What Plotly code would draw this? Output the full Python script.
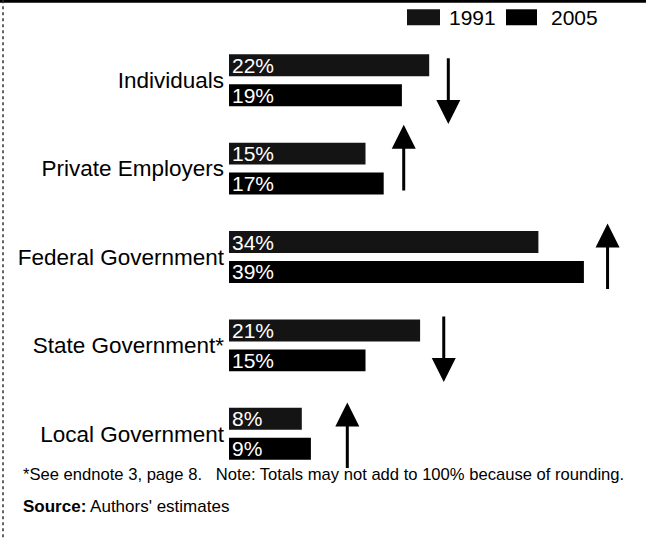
import plotly.graph_objects as go

# Share of spending by payer, 1991 vs 2005 (percent)
categories = ["Individuals", "Private Employers", "Federal Government",
              "State Government*", "Local Government"]
share_1991 = [22, 15, 34, 21, 8]
share_2005 = [19, 17, 39, 15, 9]
series_names = ["1991", "2005"]

note_text = ("*See endnote 3, page 8.   Note: Totals may not add to 100% "
             "because of rounding.")
source_label = "Source:"
source_text = "Authors' estimates"

# ---- page geometry -------------------------------------------------------
FIG_W, FIG_H = 646, 538
M_L, M_R, M_T, M_B = 229, 0, 35.75, 59.75
PLOT_W = FIG_W - M_L - M_R
PLOT_H = FIG_H - M_T - M_B
PX_PER_PCT = 9.1

FONT = "Liberation Sans, Arial, sans-serif"
BAR_COLORS = {"1991": "#141414", "2005": "#000000"}


def px_x(p):
    return (p - M_L) / PLOT_W


def px_y(p):
    return 1 - (p - M_T) / PLOT_H


fig = go.Figure()
for name, vals in zip(series_names, [share_1991, share_2005]):
    fig.add_trace(go.Bar(
        name=name,
        y=categories,
        x=vals,
        orientation="h",
        marker=dict(color=BAR_COLORS[name], line=dict(width=0)),
        text=[f"{v}%" for v in vals],
        textposition="inside",
        insidetextanchor="start",
        textangle=0,
        textfont=dict(family=FONT, size=21, color="white"),
        showlegend=False,
        hoverinfo="skip",
    ))

# ---- change arrows: up when the share grew, down when it fell -------------
arrow_gap = {"Individuals": 2.1, "Private Employers": 2.2,
             "Federal Government": 2.6, "State Government*": 2.6,
             "Local Government": 4.0}
arrow_shift = {"Individuals": 0.115, "Private Employers": -0.115,
               "Federal Government": 0.0, "State Government*": 0.035,
               "Local Government": 0.025}
HALF_LEN = 0.38

annotations = []
for i, cat in enumerate(categories):
    a, b = share_1991[i], share_2005[i]
    xpos = max(a, b) + arrow_gap[cat]
    centre = i + arrow_shift[cat]
    if b > a:
        tip, tail = centre - HALF_LEN, centre + HALF_LEN
    else:
        tip, tail = centre + HALF_LEN, centre - HALF_LEN
    annotations.append(dict(
        x=xpos, y=tip, ax=xpos, ay=tail,
        xref="x", yref="y", axref="x", ayref="y",
        text="", showarrow=True,
        arrowhead=2, arrowsize=1.6, arrowwidth=3, arrowcolor="black",
        standoff=0, startstandoff=0,
    ))

# ---- legend drawn as swatches + labels -----------------------------------
legend_items = [("1991", 407, 440, 447), ("2005", 506, 537, 549)]
shapes = []
for name, x0, x1, tx in legend_items:
    shapes.append(dict(
        type="rect", xref="paper", yref="paper",
        x0=px_x(x0), x1=px_x(x1), y0=px_y(25), y1=px_y(9),
        fillcolor=BAR_COLORS[name], line=dict(width=0),
    ))
    annotations.append(dict(
        x=px_x(tx), y=px_y(17), xref="paper", yref="paper",
        xanchor="left", yanchor="middle", showarrow=False,
        text=name, font=dict(family=FONT, size=21, color="black"),
    ))

# frame rules along the top and left edges
shapes.append(dict(type="line", xref="paper", yref="paper",
                   x0=px_x(0), x1=px_x(FIG_W), y0=px_y(1), y1=px_y(1),
                   line=dict(color="black", width=3)))
shapes.append(dict(type="line", xref="paper", yref="paper",
                   x0=px_x(3), x1=px_x(3), y0=px_y(0), y1=px_y(FIG_H),
                   line=dict(color="#333333", width=1.5, dash="dot")))

# ---- footnotes -----------------------------------------------------------
annotations.append(dict(
    x=px_x(21), y=px_y(475), xref="paper", yref="paper",
    xanchor="left", yanchor="middle", showarrow=False,
    text=note_text, font=dict(family=FONT, size=16.6, color="black"),
))
annotations.append(dict(
    x=px_x(21), y=px_y(507), xref="paper", yref="paper",
    xanchor="left", yanchor="middle", showarrow=False,
    text=f"<b>{source_label}</b> {source_text}",
    font=dict(family=FONT, size=17, color="black"),
))

fig.update_layout(
    width=FIG_W, height=FIG_H,
    margin=dict(l=M_L, r=M_R, t=M_T, b=M_B, pad=0, autoexpand=False),
    paper_bgcolor="white", plot_bgcolor="white",
    barmode="group", bargap=0.322, bargroupgap=0.267,
    uniformtext=dict(minsize=21, mode="show"),
    xaxis=dict(range=[0, PLOT_W / PX_PER_PCT], visible=False,
               fixedrange=True, automargin=False),
    yaxis=dict(
        type="category", categoryorder="array", categoryarray=categories,
        range=[len(categories) - 0.5, -0.5], automargin=False,
        showgrid=False, showline=False, zeroline=False, ticks="",
        ticklabelstandoff=4,
        tickfont=dict(family=FONT, size=22.5, color="black"),
        fixedrange=True,
    ),
    shapes=shapes,
    annotations=annotations,
    showlegend=False,
)

fig.write_html("out.html")
